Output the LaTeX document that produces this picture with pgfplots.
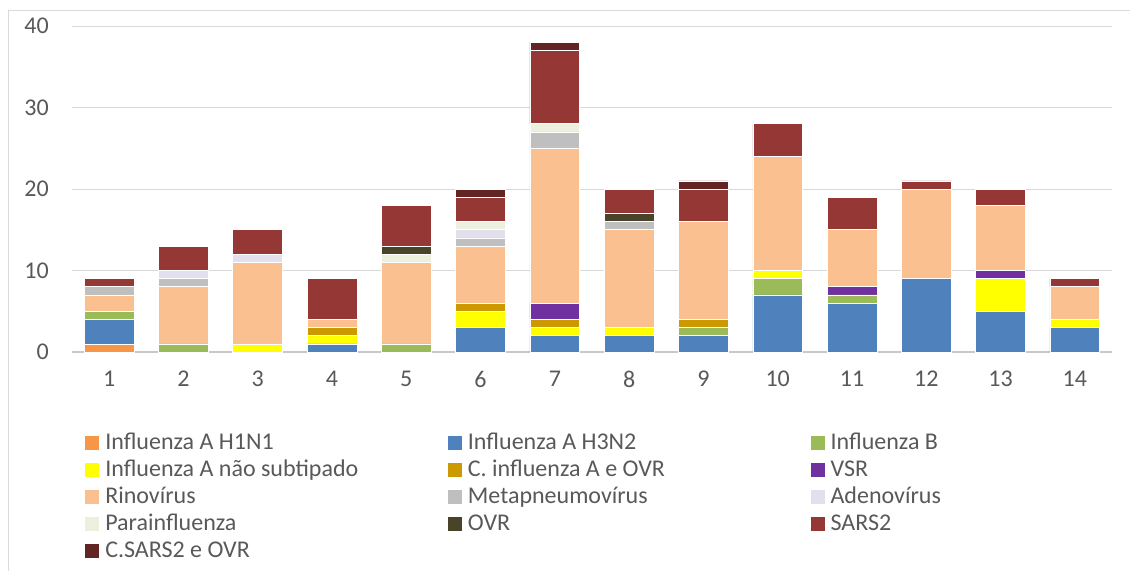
\documentclass[border=0pt]{standalone}
\usepackage{fontspec}
\setmainfont{Carlito}
\usepackage{pgfplots}
\usepackage{pgfplotstable}
\pgfplotsset{compat=1.18}

\definecolor{cH1N1}{HTML}{F79646}
\definecolor{cH3N2}{HTML}{4F81BD}
\definecolor{cFluB}{HTML}{9BBB59}
\definecolor{cNaoSub}{HTML}{FFFF00}
\definecolor{cCInf}{HTML}{CC9900}
\definecolor{cVSR}{HTML}{7030A0}
\definecolor{cRino}{HTML}{FAC090}
\definecolor{cMetap}{HTML}{BFBFBF}
\definecolor{cAdeno}{HTML}{E4DFEC}
\definecolor{cParainf}{HTML}{EBF1DE}
\definecolor{cOVR}{HTML}{494429}
\definecolor{cSARS}{HTML}{953735}
\definecolor{cCSARS}{HTML}{632523}
\definecolor{textgray}{HTML}{595959}
\definecolor{gridgray}{HTML}{D9D9D9}
\definecolor{axisgray}{HTML}{C8C8C8}

% casos por semana, empilhados de baixo para cima
\pgfplotstableread{
x  H1N1 H3N2 FluB NaoSub CInf VSR Rino Metap Adeno Parainf OVR SARS CSARS
1  1    3    1    0      0    0   2    1     0     0       0   1    0
2  0    0    1    0      0    0   7    1     1     0       0   3    0
3  0    0    0    1      0    0   10   0     1     0       0   3    0
4  0    1    0    1      1    0   1    0     0     0       0   5    0
5  0    0    1    0      0    0   10   0     0     1       1   5    0
6  0    3    0    2      1    0   7    1     1     1       0   3    1
7  0    2    0    1      1    2   19   2     0     1       0   9    1
8  0    2    0    1      0    0   12   1     0     0       1   3    0
9  0    2    1    0      1    0   12   0     0     0       0   4    1
10 0    7    2    1      0    0   14   0     0     0       0   4    0
11 0    6    1    0      0    1   7    0     0     0       0   4    0
12 0    9    0    0      0    0   11   0     0     0       0   1    0
13 0    5    0    4      0    1   8    0     0     0       0   2    0
14 0    3    0    1      0    0   4    0     0     0       0   1    0
}\casos

\newcommand\lgd[1]{\makebox[257pt][l]{#1}}

\begin{document}
\begin{tikzpicture}
\useasboundingbox (0,0) rectangle (847.5pt,428.25pt);
\fill[white] (0,0) rectangle (847.5pt,428.25pt);
\draw[gridgray, line width=0.75pt] (6pt,0) -- (6pt,420pt) -- (850pt,420pt);
\begin{axis}[
  at={(54pt,164.25pt)}, anchor=south west,
  scale only axis, width=780pt, height=244.5pt,
  ybar stacked, bar width=0.67,
  xmin=0.5, xmax=14.5, ymin=0, ymax=40,
  xtick={1,...,14}, ytick={0,10,20,30,40},
  axis line style={draw=none},
  major tick length=0pt,
  ymajorgrids, grid style={gridgray, line width=0.75pt},
  extra y ticks={0}, extra y tick labels={},
  extra y tick style={major grid style={axisgray, line width=1pt}},
  tick label style={font=\fontsize{18}{21}\selectfont, text=textgray},
  /pgf/number format/assume math mode=true,
  yticklabel style={anchor=east, inner sep=0pt, xshift=-17.25pt},
  xticklabel style={anchor=north, inner sep=0pt, yshift=-13.9pt},
  every axis plot/.append style={draw=white, line width=0.5pt},
  legend columns=3,
  legend cell align=left,
  legend image code/.code={\fill[#1, draw=none] (0pt,-3.65pt) rectangle (10.5pt,6.85pt); \path[draw=none, fill=none] (0pt,0pt) -- (15pt,0pt);},
  legend style={at={(0.0125,-0.2423)}, anchor=north west, draw=none, fill=none,
    inner sep=0pt, row sep=0pt, column sep=0pt,
    font=\fontsize{18}{21}\selectfont, text=textgray,
    nodes={inner sep=0pt, text height=13.5pt, text depth=6.75pt}},
]
\addplot[fill=cH1N1] table[x=x, y=H1N1] {\casos};
\addplot[fill=cH3N2] table[x=x, y=H3N2] {\casos};
\addplot[fill=cFluB] table[x=x, y=FluB] {\casos};
\addplot[fill=cNaoSub] table[x=x, y=NaoSub] {\casos};
\addplot[fill=cCInf] table[x=x, y=CInf] {\casos};
\addplot[fill=cVSR] table[x=x, y=VSR] {\casos};
\addplot[fill=cRino] table[x=x, y=Rino] {\casos};
\addplot[fill=cMetap] table[x=x, y=Metap] {\casos};
\addplot[fill=cAdeno] table[x=x, y=Adeno] {\casos};
\addplot[fill=cParainf] table[x=x, y=Parainf] {\casos};
\addplot[fill=cOVR] table[x=x, y=OVR] {\casos};
\addplot[fill=cSARS] table[x=x, y=SARS] {\casos};
\addplot[fill=cCSARS] table[x=x, y=CSARS] {\casos};
\legend{\lgd{Influenza A H1N1}, \lgd{Influenza A H3N2}, \lgd{Influenza B},
  \lgd{Influenza A não subtipado}, \lgd{C. influenza A e OVR}, \lgd{VSR},
  \lgd{Rinovírus}, \lgd{Metapneumovírus}, \lgd{Adenovírus},
  \lgd{Parainfluenza}, \lgd{OVR}, \lgd{SARS2},
  \lgd{C.SARS2 e OVR}}
\end{axis}
\end{tikzpicture}
\end{document}
